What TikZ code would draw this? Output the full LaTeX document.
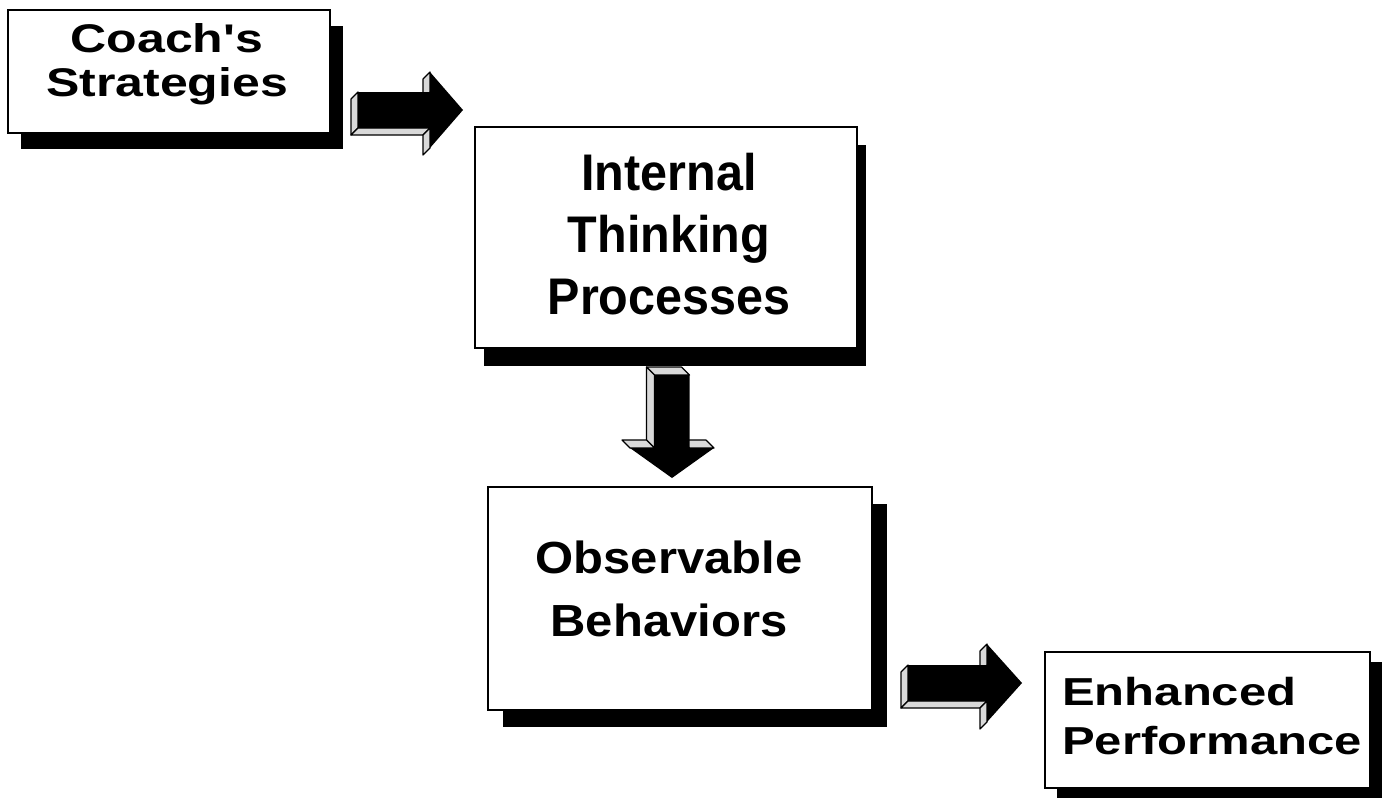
\documentclass[tikz,border=0pt]{standalone}
\usepackage{fontspec}
\setmainfont{Liberation Sans}[Ligatures=TeXOff]
\usepackage{graphicx}
\usetikzlibrary{shadows}

% Scaled, bold, multi-line label: #1 x-scale, #2 y-scale, #3 line skip, #4 column type, #5 lines
\newcommand{\flowtext}[5]{%
  \scalebox{#1}[#2]{\fontsize{50}{#3}\selectfont\bfseries
    \begin{tabular}[t]{@{}#4@{}}#5\end{tabular}}}

% Extruded block arrow drawn in a local frame (pointing along +x):
% #1 origin, #2 rotation, #3 shaft length, #4 total length,
% #5 half shaft width, #6 half head width, #7/#8 extrusion offset
\newcommand{\blockarrow}[8]{%
  \begin{scope}[shift={#1}, rotate=#2]
    \filldraw[arrowface] (0,-#5) -- (0,#5) -- (#7,#5+#8) -- (#7,-#5+#8) -- cycle;
    \filldraw[arrowface] (0,#5) -- (#3,#5) -- (#3+#7,#5+#8) -- (#7,#5+#8) -- cycle;
    \filldraw[arrowface] (#3,-#5) -- (#3,-#6) -- (#3+#7,-#6+#8) -- (#3+#7,-#5+#8) -- cycle;
    \filldraw[arrowface] (#3,#5) -- (#3,#6) -- (#3+#7,#6+#8) -- (#3+#7,#5+#8) -- cycle;
    \fill[arrowfront] (0,-#5) -- (#3,-#5) -- (#3,-#6) -- (#4,0) -- (#3,#6)
      -- (#3,#5) -- (0,#5) -- cycle;
  \end{scope}}

\tikzset{
  stagebox/.style={draw=black, line width=2.4pt, fill=white, inner sep=0pt,
    rectangle},
  boxshadow/.style 2 args={drop shadow={shadow xshift=#1pt, shadow yshift=-#2pt,
    opacity=1, fill=black}},
  arrowface/.style={fill=gray!30, draw=black, line width=1.2pt, line join=round},
  arrowfront/.style={fill=black},
  stagetext/.style={inner sep=0pt, anchor=base},
}

\begin{document}
\begin{tikzpicture}[x=1pt, y=-1pt]
  \useasboundingbox[fill=white] (0,0) rectangle (1396,804);

  % stage boxes with solid drop shadows
  \node[stagebox, boxshadow={13}{16}, minimum width=322pt, minimum height=123pt]
    (coach) at (169,71.5) {};
  \node[stagebox, boxshadow={9}{18}, minimum width=382pt, minimum height=221pt]
    (internal) at (666,237.5) {};
  \node[stagebox, boxshadow={15}{17}, minimum width=384pt, minimum height=223pt]
    (observable) at (680,598.5) {};
  \node[stagebox, boxshadow={12}{10}, minimum width=325pt, minimum height=136pt]
    (enhanced) at (1207.5,720) {};

  % labels
  \node[stagetext] (coachtext) at (167,52)
    {\flowtext{1.0}{0.8}{56}{c}{Coach's\\Strategies}};
  \node[stagetext] (internaltext) at (669,190)
    {\flowtext{0.97}{1.03}{60.5}{c}{Internal\\Thinking\\Processes}};
  \node[stagetext] (observabletext) at (669,573)
    {\flowtext{0.98}{0.9}{71}{c}{Observable\\Behaviors}};
  \node[stagetext, anchor=base west] (enhancedtext) at (1062,705)
    {\flowtext{0.98}{0.78}{64}{l}{Enhanced\\Performance}};

  % block arrows between the stages
  \coordinate (a1) at (358,110);
  \coordinate (a2) at (672,375);
  \coordinate (a3) at (908,683);
  \blockarrow{(a1)}{0}{72}{105}{18}{38}{-7}{7}
  \blockarrow{(a2)}{-90}{73}{103}{17.5}{42}{-8}{8}
  \blockarrow{(a3)}{0}{79}{114}{18}{39}{-7}{7}
\end{tikzpicture}
\end{document}
